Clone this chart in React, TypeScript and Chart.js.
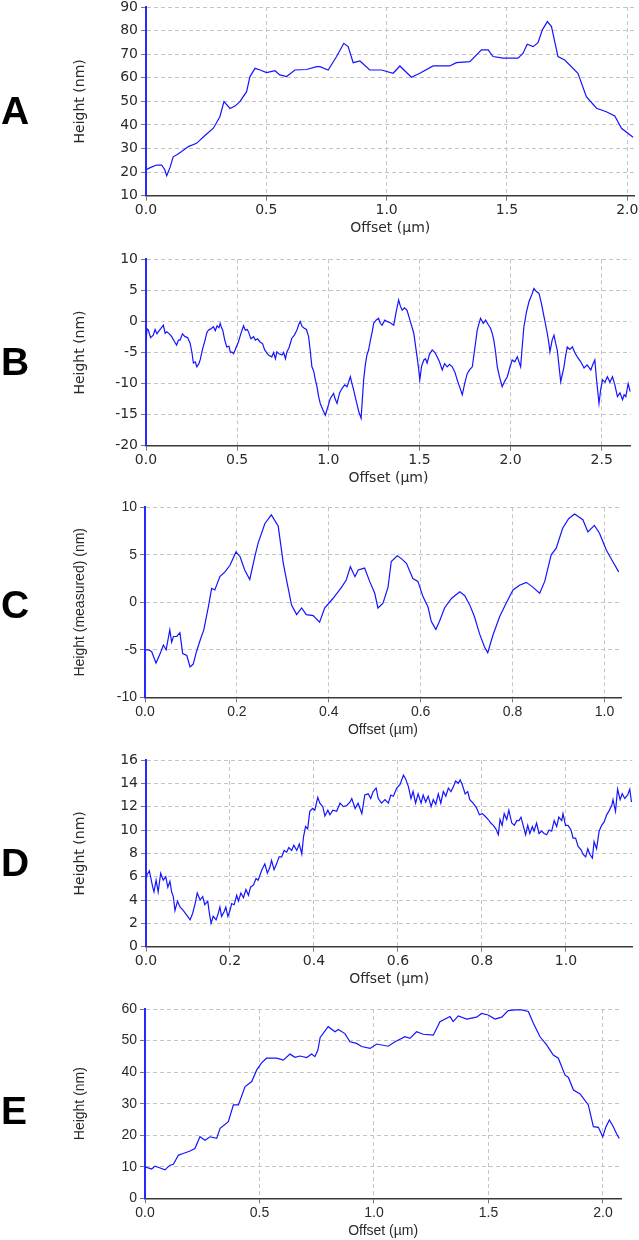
import React, { useEffect, useRef } from 'react';
import { Chart, registerables } from 'chart.js';
Chart.register(...registerables);

// ---------- Panel A ----------
const offsetA = [0, 0.02, 0.044, 0.065, 0.078, 0.086, 0.1, 0.113, 0.13, 0.148, 0.176, 0.21, 0.245, 0.28, 0.307, 0.324, 0.349, 0.37, 0.39, 0.418, 0.432, 0.453, 0.474, 0.501, 0.536, 0.556, 0.584, 0.619, 0.667, 0.709, 0.723, 0.757, 0.792, 0.822, 0.84, 0.861, 0.889, 0.93, 0.979, 1.027, 1.055, 1.103, 1.138, 1.193, 1.262, 1.29, 1.346, 1.394, 1.422, 1.442, 1.484, 1.546, 1.567, 1.584, 1.609, 1.629, 1.647, 1.668, 1.685, 1.712, 1.74, 1.795, 1.83, 1.872, 1.913, 1.948, 1.976, 2.024];
const heightA = [21, 22, 23, 23, 21, 18.5, 22, 26.5, 27.5, 28.7, 30.8, 32.2, 35.5, 38.6, 43.5, 49.9, 47, 48, 49.9, 54.1, 60.5, 64, 63.3, 62.2, 63, 61.2, 60.5, 63.3, 63.5, 64.7, 64.7, 63.3, 69, 74.6, 73.2, 66.4, 67.1, 63.3, 63.3, 61.9, 65, 60.2, 61.9, 65, 65, 66.4, 66.8, 71.8, 71.8, 69, 68.3, 68.3, 70.4, 74.2, 73.2, 74.9, 80.3, 83.8, 81.7, 69, 67.5, 61.9, 52, 47.1, 45.6, 43.8, 38.6, 34.8];
const xTicksA = [0, 0.5, 1.0, 1.5, 2.0];
const yTicksA = [10, 20, 30, 40, 50, 60, 70, 80, 90];

// ---------- Panel B ----------
const offsetB = [0, 0.006, 0.013, 0.025, 0.04, 0.05, 0.06, 0.068, 0.08, 0.095, 0.105, 0.114, 0.128, 0.141, 0.155, 0.168, 0.178, 0.187, 0.2, 0.214, 0.228, 0.242, 0.252, 0.26, 0.27, 0.279, 0.29, 0.297, 0.31, 0.324, 0.334, 0.342, 0.355, 0.37, 0.38, 0.39, 0.4, 0.407, 0.414, 0.421, 0.432, 0.443, 0.455, 0.463, 0.471, 0.48, 0.489, 0.498, 0.507, 0.52, 0.535, 0.545, 0.555, 0.562, 0.575, 0.59, 0.6, 0.612, 0.626, 0.64, 0.65, 0.663, 0.675, 0.69, 0.7, 0.71, 0.718, 0.73, 0.746, 0.755, 0.765, 0.773, 0.785, 0.8, 0.814, 0.828, 0.838, 0.846, 0.856, 0.868, 0.88, 0.892, 0.902, 0.91, 0.92, 0.929, 0.938, 0.947, 0.956, 0.97, 0.984, 0.997, 1.011, 1.029, 1.038, 1.048, 1.062, 1.075, 1.09, 1.103, 1.121, 1.13, 1.139, 1.153, 1.167, 1.18, 1.187, 1.194, 1.203, 1.212, 1.221, 1.231, 1.24, 1.249, 1.262, 1.276, 1.285, 1.295, 1.31, 1.322, 1.34, 1.359, 1.372, 1.386, 1.395, 1.405, 1.418, 1.432, 1.45, 1.469, 1.478, 1.487, 1.495, 1.502, 1.512, 1.524, 1.533, 1.542, 1.555, 1.57, 1.585, 1.597, 1.61, 1.625, 1.638, 1.652, 1.665, 1.68, 1.695, 1.707, 1.72, 1.735, 1.748, 1.762, 1.775, 1.79, 1.803, 1.817, 1.827, 1.835, 1.85, 1.863, 1.877, 1.89, 1.9, 1.908, 1.918, 1.927, 1.94, 1.954, 1.968, 1.982, 1.995, 2.009, 2.023, 2.037, 2.046, 2.055, 2.064, 2.073, 2.087, 2.101, 2.115, 2.128, 2.142, 2.156, 2.17, 2.183, 2.192, 2.201, 2.21, 2.216, 2.228, 2.238, 2.247, 2.256, 2.265, 2.275, 2.284, 2.293, 2.302, 2.311, 2.325, 2.339, 2.352, 2.366, 2.385, 2.403, 2.42, 2.44, 2.45, 2.462, 2.472, 2.485, 2.494, 2.504, 2.518, 2.531, 2.545, 2.559, 2.572, 2.586, 2.6, 2.614, 2.623, 2.632, 2.645, 2.656];
const heightB = [-3.0, -1.2, -1.4, -2.6, -2.2, -1.3, -2.0, -1.65, -1.2, -0.6, -1.9, -1.65, -2.0, -2.45, -3.2, -3.8, -3.0, -3.0, -2.0, -2.45, -2.6, -3.5, -5.0, -6.7, -6.5, -7.3, -6.8, -6.2, -4.5, -3.0, -1.8, -1.4, -1.2, -0.85, -1.5, -0.7, -1.0, -0.3, -1.0, -1.4, -3.0, -4.1, -4.0, -5.0, -4.9, -5.2, -4.6, -3.9, -3.3, -2.0, -0.7, -1.4, -1.3, -1.65, -2.8, -2.45, -3.0, -2.8, -3.3, -3.6, -4.5, -5.1, -5.5, -5.7, -5.0, -6.0, -4.9, -5.2, -5.4, -5.0, -6.0, -4.9, -4.2, -2.7, -2.2, -1.4, -0.5, 0.0, -0.8, -1.1, -1.3, -2.45, -5.0, -7.3, -8.0, -9.4, -10.5, -12.1, -13.2, -14.2, -15.1, -13.8, -12.4, -11.6, -12.5, -13.2, -11.5, -10.8, -10.2, -10.5, -8.9, -10.0, -11.0, -12.8, -14.5, -15.6, -12.5, -9.4, -7.0, -5.4, -4.6, -3.0, -1.8, -0.3, 0.2, 0.5, -0.3, -0.6, 0.2, 0.0, -0.2, -0.6, 1.5, 3.45, 2.5, 1.8, 2.2, 1.8, 0.0, -1.9, -3.8, -5.7, -7.5, -9.4, -7.2, -6.2, -6.0, -6.7, -5.3, -4.6, -5.0, -5.7, -6.5, -7.8, -6.8, -7.3, -6.9, -7.3, -8.2, -9.4, -10.5, -11.8, -10.0, -8.4, -7.8, -7.3, -4.5, -1.4, -0.3, 0.5, -0.3, 0.2, -0.5, -1.1, -2.0, -3.0, -5.0, -7.3, -9.0, -10.5, -9.6, -8.9, -7.5, -6.2, -6.5, -5.7, -6.5, -7.3, -4.0, -0.85, 1.5, 3.2, 4.2, 5.3, 4.8, 4.5, 2.8, 0.8, -0.5, -1.9, -3.5, -4.9, -3.0, -2.2, -3.5, -4.6, -7.0, -9.7, -8.5, -7.3, -5.5, -4.1, -4.5, -4.1, -5.0, -5.7, -6.5, -7.5, -7.0, -7.8, -7.0, -6.2, -9.5, -13.2, -11.0, -9.4, -9.8, -8.9, -9.8, -8.9, -10.2, -12.1, -11.5, -12.6, -11.8, -12.1, -10.0, -11.3];
const xTicksB = [0, 0.5, 1.0, 1.5, 2.0, 2.5];
const yTicksB = [-20, -15, -10, -5, 0, 5, 10];

// ---------- Panel C ----------
const offsetC = [0, 0.008, 0.0146, 0.024, 0.033, 0.04, 0.046, 0.054, 0.058, 0.062, 0.069, 0.076, 0.082, 0.091, 0.098, 0.105, 0.112, 0.12, 0.128, 0.138, 0.145, 0.152, 0.163, 0.174, 0.185, 0.198, 0.207, 0.217, 0.228, 0.239, 0.246, 0.261, 0.275, 0.29, 0.301, 0.308, 0.319, 0.33, 0.341, 0.351, 0.366, 0.38, 0.391, 0.409, 0.428, 0.438, 0.447, 0.457, 0.464, 0.478, 0.489, 0.5, 0.507, 0.518, 0.529, 0.536, 0.549, 0.558, 0.569, 0.583, 0.594, 0.605, 0.616, 0.623, 0.633, 0.641, 0.652, 0.667, 0.685, 0.696, 0.707, 0.717, 0.728, 0.739, 0.746, 0.757, 0.772, 0.786, 0.801, 0.815, 0.83, 0.844, 0.859, 0.87, 0.884, 0.895, 0.909, 0.922, 0.935, 0.953, 0.964, 0.978, 0.989, 1.004, 1.018, 1.031];
const heightC = [-5.0, -5.0, -5.2, -6.4, -5.4, -4.5, -5.0, -2.9, -4.2, -3.6, -3.6, -3.2, -5.4, -5.6, -6.8, -6.5, -5.2, -4.0, -2.9, -0.46, 1.47, 1.3, 2.7, 3.2, 3.9, 5.3, 4.8, 3.4, 2.4, 4.8, 6.2, 8.3, 9.2, 8.0, 4.1, 2.35, -0.3, -1.3, -0.6, -1.3, -1.4, -2.1, -0.6, 0.4, 1.6, 2.35, 3.75, 2.7, 3.4, 3.6, 2.2, 0.95, -0.6, -0.1, 1.6, 4.3, 4.9, 4.6, 4.1, 2.5, 2.2, 0.6, -0.5, -2.0, -2.85, -2.0, -0.6, 0.4, 1.1, 0.7, -0.3, -1.5, -3.3, -4.7, -5.3, -3.5, -1.5, -0.1, 1.3, 1.8, 2.1, 1.6, 0.95, 2.2, 5.0, 5.7, 7.8, 8.8, 9.3, 8.7, 7.4, 8.1, 7.3, 5.5, 4.3, 3.2];
const xTicksC = [0, 0.2, 0.4, 0.6, 0.8, 1.0];
const yTicksC = [-10, -5, 0, 5, 10];

// ---------- Panel D ----------
const offsetD = [0, 0.002, 0.008, 0.016, 0.019, 0.024, 0.029, 0.035, 0.041, 0.047, 0.052, 0.057, 0.061, 0.065, 0.069, 0.075, 0.081, 0.089, 0.097, 0.105, 0.111, 0.117, 0.122, 0.129, 0.135, 0.14, 0.147, 0.151, 0.155, 0.16, 0.167, 0.172, 0.176, 0.18, 0.186, 0.19, 0.195, 0.2, 0.204, 0.21, 0.216, 0.22, 0.226, 0.232, 0.238, 0.244, 0.249, 0.256, 0.262, 0.267, 0.276, 0.283, 0.289, 0.295, 0.299, 0.305, 0.311, 0.317, 0.323, 0.329, 0.335, 0.34, 0.347, 0.352, 0.359, 0.365, 0.371, 0.375, 0.38, 0.385, 0.39, 0.397, 0.402, 0.409, 0.414, 0.421, 0.426, 0.433, 0.438, 0.445, 0.454, 0.462, 0.47, 0.478, 0.486, 0.49, 0.498, 0.505, 0.514, 0.521, 0.529, 0.535, 0.541, 0.548, 0.553, 0.561, 0.569, 0.577, 0.583, 0.589, 0.597, 0.605, 0.613, 0.618, 0.625, 0.631, 0.636, 0.642, 0.648, 0.655, 0.66, 0.666, 0.672, 0.679, 0.684, 0.69, 0.696, 0.702, 0.708, 0.714, 0.72, 0.726, 0.732, 0.737, 0.744, 0.748, 0.753, 0.76, 0.766, 0.771, 0.779, 0.787, 0.794, 0.801, 0.807, 0.815, 0.821, 0.827, 0.833, 0.839, 0.843, 0.848, 0.853, 0.859, 0.864, 0.871, 0.877, 0.883, 0.888, 0.893, 0.898, 0.904, 0.909, 0.914, 0.92, 0.924, 0.93, 0.936, 0.942, 0.948, 0.954, 0.96, 0.966, 0.972, 0.978, 0.983, 0.99, 0.993, 0.999, 1.005, 1.012, 1.017, 1.023, 1.029, 1.036, 1.041, 1.047, 1.052, 1.057, 1.063, 1.067, 1.073, 1.079, 1.085, 1.091, 1.097, 1.102, 1.109, 1.112, 1.118, 1.123, 1.129, 1.134, 1.14, 1.147, 1.152, 1.156];
const heightD = [6.0, 6.14, 6.5, 5.1, 4.7, 5.7, 4.7, 6.3, 5.7, 6.0, 5.1, 5.6, 4.7, 4.3, 3.1, 3.9, 3.4, 3.1, 2.7, 2.3, 2.85, 3.7, 4.6, 4.0, 4.3, 3.6, 3.9, 2.85, 2.0, 2.6, 2.3, 2.85, 3.4, 2.6, 3.0, 3.4, 2.6, 3.1, 3.7, 3.6, 4.4, 3.9, 4.6, 4.2, 4.9, 4.4, 5.1, 5.3, 5.85, 5.7, 6.6, 7.1, 6.3, 6.8, 7.4, 6.6, 7.1, 7.7, 7.7, 8.25, 8.1, 8.5, 8.25, 8.7, 8.25, 8.8, 7.95, 9.4, 10.3, 10.1, 11.6, 11.85, 11.7, 12.8, 12.3, 12.0, 11.2, 11.7, 11.3, 11.7, 11.6, 12.3, 12.0, 12.1, 12.4, 12.7, 11.85, 12.3, 11.4, 13.0, 13.1, 12.7, 13.3, 13.6, 12.7, 12.3, 12.6, 12.3, 13.0, 12.9, 13.6, 13.9, 14.7, 14.4, 13.7, 12.7, 13.3, 12.3, 13.1, 12.3, 13.0, 12.4, 12.9, 12.0, 12.6, 12.2, 13.1, 12.3, 13.3, 12.9, 13.6, 13.3, 13.7, 14.2, 14.0, 14.3, 13.9, 13.1, 13.3, 12.6, 12.3, 11.9, 11.3, 11.4, 11.2, 10.9, 10.6, 10.4, 10.1, 9.6, 10.9, 10.4, 11.4, 10.9, 11.7, 10.6, 10.4, 10.8, 10.8, 11.1, 10.4, 9.6, 10.4, 9.7, 10.3, 9.9, 10.6, 9.7, 9.9, 9.7, 9.6, 10.0, 9.9, 10.8, 10.3, 11.1, 10.8, 11.4, 10.4, 10.4, 10.0, 9.3, 9.3, 8.6, 8.3, 7.9, 7.7, 8.4, 7.9, 7.6, 9.0, 8.4, 9.9, 10.4, 10.7, 11.3, 11.6, 12.1, 12.6, 11.6, 13.5, 12.6, 13.1, 12.7, 13.0, 13.5, 12.4];
const xTicksD = [0, 0.2, 0.4, 0.6, 0.8, 1.0];
const yTicksD = [0, 2, 4, 6, 8, 10, 12, 14, 16];

// ---------- Panel E ----------
const offsetE = [0, 0.029, 0.044, 0.066, 0.087, 0.109, 0.124, 0.146, 0.167, 0.197, 0.218, 0.24, 0.262, 0.284, 0.313, 0.328, 0.364, 0.386, 0.408, 0.437, 0.466, 0.488, 0.51, 0.531, 0.575, 0.604, 0.633, 0.655, 0.677, 0.706, 0.728, 0.742, 0.755, 0.765, 0.8, 0.83, 0.844, 0.873, 0.895, 0.924, 0.946, 0.983, 1.012, 1.062, 1.092, 1.135, 1.157, 1.186, 1.215, 1.259, 1.288, 1.332, 1.346, 1.368, 1.405, 1.448, 1.47, 1.499, 1.528, 1.558, 1.586, 1.616, 1.645, 1.674, 1.696, 1.725, 1.754, 1.783, 1.805, 1.834, 1.849, 1.871, 1.9, 1.936, 1.958, 1.98, 1.999, 2.013, 2.028, 2.045, 2.06, 2.071];
const heightE = [10.0, 9.3, 10.2, 9.6, 9.0, 10.5, 10.8, 13.7, 14.2, 15.0, 15.8, 19.5, 18.4, 19.5, 19.0, 22.2, 24.3, 29.6, 29.6, 35.4, 37.0, 40.7, 43.0, 44.4, 44.4, 43.8, 45.7, 44.7, 45.1, 44.6, 45.7, 44.9, 47.0, 51.0, 54.4, 52.8, 53.5, 52.2, 49.6, 49.1, 48.1, 47.5, 48.9, 48.2, 49.6, 51.2, 50.7, 52.8, 52.0, 51.7, 56.0, 57.6, 56.0, 57.8, 56.8, 57.4, 58.6, 58.1, 56.8, 57.4, 59.5, 59.7, 59.7, 59.2, 55.5, 51.2, 48.6, 45.4, 44.4, 39.1, 38.3, 34.3, 33.1, 29.6, 22.7, 22.5, 19.5, 22.7, 24.8, 22.7, 20.4, 19.0];
const xTicksE = [0, 0.5, 1.0, 1.5, 2.0];
const yTicksE = [0, 10, 20, 30, 40, 50, 60];

const DEJAVU = "'DejaVu Sans', 'Bitstream Vera Sans', sans-serif";
const ARIAL = "'Liberation Sans', Arial, sans-serif";
const LINE_COLOR = 'rgb(20,20,255)';
const TEXT_COLOR = '#2a2a2a';
const W = 639;

type PanelProps = {
  top: number; height: number;
  plotLeft: number; plotRight: number; plotTop: number; plotBottom: number;
  family: string; fontSize: number;
  xs: number[]; ys: number[];
  xTicks: number[]; yTicks: number[];
  xMax: number; yTitle: string;
};

function Panel(p: PanelProps) {
  const ref = useRef<HTMLCanvasElement>(null);
  useEffect(() => {
    if (!ref.current) return;
    const lh = 1.2;
    const half = (p.fontSize * lh) / 2;
    const padLeft = 80 - half;
    const yW = p.plotLeft - padLeft;
    const xH = 32.5 + half;
    const font = { family: p.family, size: p.fontSize, lineHeight: lh };
    const yMin = p.yTicks[0];
    const yMax = p.yTicks[p.yTicks.length - 1];
    const chart = new Chart(ref.current, {
      type: 'line',
      data: {
        datasets: [{
          data: p.xs.map((x, i) => ({ x, y: p.ys[i] })),
          borderColor: LINE_COLOR,
          borderWidth: 1.2,
          pointRadius: 0,
          tension: 0,
          fill: false,
        }],
      },
      options: {
        animation: false,
        responsive: false,
        maintainAspectRatio: false,
        events: [],
        layout: {
          padding: {
            left: padLeft,
            right: W - p.plotRight,
            top: p.plotTop,
            bottom: p.height - p.plotBottom - xH,
          },
        },
        plugins: { legend: { display: false }, tooltip: { enabled: false } },
        scales: {
          x: {
            type: 'linear',
            min: 0,
            max: p.xMax,
            afterBuildTicks: (s: any) => { s.ticks = p.xTicks.map((v) => ({ value: v })); },
            afterFit: (s: any) => { s.height = xH; s.paddingLeft = 0; s.paddingRight = 0; },
            ticks: {
              callback: (v: any) => Number(v).toFixed(1),
              font, color: TEXT_COLOR, padding: 1, maxRotation: 0, autoSkip: false,
            },
            grid: {
              color: (c: any) => (c.tick && c.tick.value === 0 ? 'rgba(0,0,0,0)' : '#c4c4c4'),
              lineWidth: 1,
              tickLength: 5,
              tickColor: '#777',
              tickWidth: 1,
            },
            border: { color: '#3a3a3a', width: 1.5, dash: [4, 3] },
            title: { display: true, text: 'Offset (µm)', font, color: TEXT_COLOR, padding: 0 },
          },
          y: {
            type: 'linear',
            min: yMin,
            max: yMax,
            afterBuildTicks: (s: any) => { s.ticks = p.yTicks.map((v) => ({ value: v })); },
            afterFit: (s: any) => { s.width = yW; s.paddingTop = 0; s.paddingBottom = 0; },
            ticks: {
              callback: (v: any) => String(v),
              font, color: TEXT_COLOR, padding: 3, autoSkip: false,
            },
            grid: {
              color: (c: any) => (c.tick && c.tick.value === yMin ? 'rgba(0,0,0,0)' : '#c4c4c4'),
              lineWidth: 1,
              tickLength: 5,
              tickColor: '#777',
              tickWidth: 1,
            },
            border: { color: 'rgb(40,40,255)', width: 2, dash: [4, 3] },
            title: { display: true, text: p.yTitle, font, color: TEXT_COLOR, padding: 0 },
          },
        },
      } as any,
    });
    return () => chart.destroy();
  }, []);
  return (
    <canvas
      ref={ref}
      width={W}
      height={p.height}
      style={{ position: 'absolute', left: 0, top: p.top, width: W, height: p.height }}
    />
  );
}

const letterStyle = (centerY: number): React.CSSProperties => ({
  position: 'absolute',
  left: 1,
  top: centerY - 19.6,
  fontFamily: ARIAL,
  fontWeight: 'bold',
  fontSize: 39,
  lineHeight: '39px',
  color: '#000',
});

export default function App() {
  return (
    <div style={{ position: 'absolute', left: 0, top: 0, width: W, height: 1240, background: '#fff', overflow: 'hidden' }}>
      <Panel top={0} height={240} plotLeft={146} plotRight={634.5} plotTop={7} plotBottom={195.7}
        family={DEJAVU} fontSize={14} xs={offsetA} ys={heightA} xTicks={xTicksA} yTicks={yTicksA} xMax={2.03} yTitle="Height (nm)" />
      <Panel top={240} height={250} plotLeft={146} plotRight={630.9} plotTop={19.3} plotBottom={205.7}
        family={DEJAVU} fontSize={14} xs={offsetB} ys={heightB} xTicks={xTicksB} yTicks={yTicksB} xMax={2.66} yTitle="Height (nm)" />
      <Panel top={490} height={260} plotLeft={145} plotRight={621} plotTop={17.3} plotBottom={207.3}
        family={ARIAL} fontSize={14} xs={offsetC} ys={heightC} xTicks={xTicksC} yTicks={yTicksC} xMax={1.036} yTitle="Height (measured) (nm)" />
      <Panel top={750} height={240} plotLeft={146} plotRight={632.3} plotTop={10} plotBottom={196.7}
        family={DEJAVU} fontSize={14} xs={offsetD} ys={heightD} xTicks={xTicksD} yTicks={yTicksD} xMax={1.158} yTitle="Height (nm)" />
      <Panel top={990} height={250} plotLeft={145} plotRight={621.3} plotTop={19} plotBottom={208.3}
        family={ARIAL} fontSize={14} xs={offsetE} ys={heightE} xTicks={xTicksE} yTicks={yTicksE} xMax={2.08} yTitle="Height (nm)" />
      <div style={letterStyle(111)}>A</div>
      <div style={letterStyle(362)}>B</div>
      <div style={letterStyle(605)}>C</div>
      <div style={letterStyle(863)}>D</div>
      <div style={letterStyle(1111)}>E</div>
    </div>
  );
}
